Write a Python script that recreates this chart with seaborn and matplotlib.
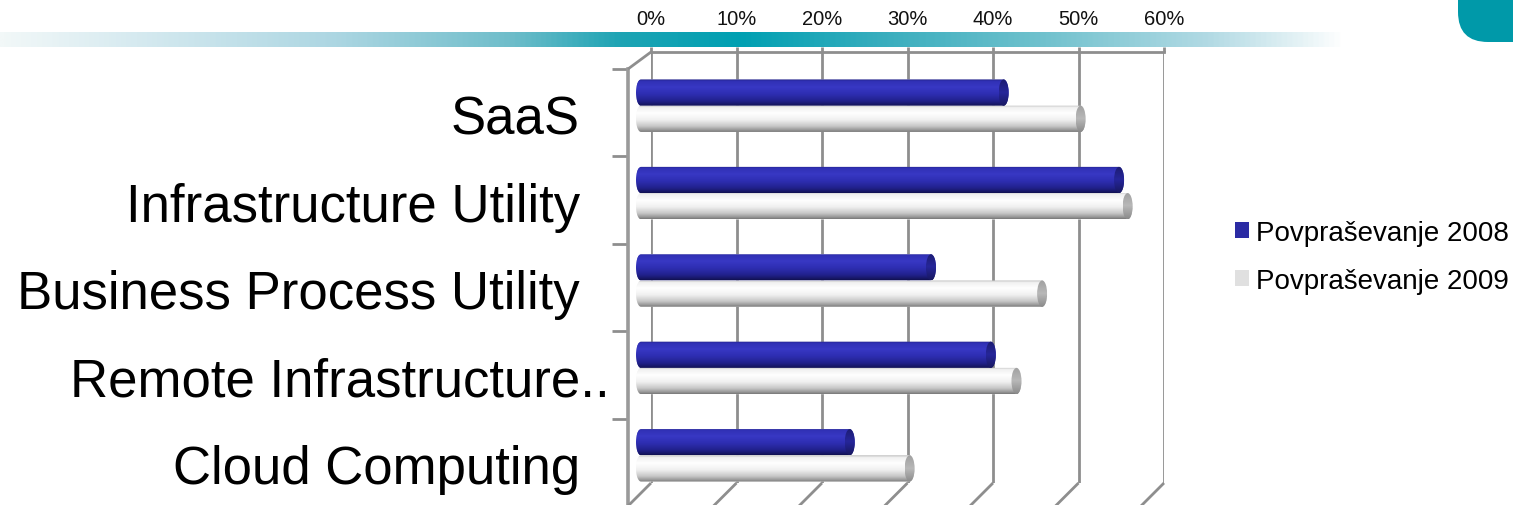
import numpy as np
import pandas as pd
import matplotlib
matplotlib.use("Agg")
import matplotlib.pyplot as plt
import seaborn as sns
from matplotlib.patches import PathPatch, Ellipse, FancyBboxPatch
from matplotlib.path import Path
from matplotlib.lines import Line2D
from matplotlib.colors import LinearSegmentedColormap
from matplotlib.transforms import ScaledTranslation

# ---------------- data ----------------
categories = ["SaaS", "Infrastructure Utility", "Business Process Utility",
              "Remote Infrastructure..", "Cloud Computing"]
series_names = ["Povpraševanje 2008", "Povpraševanje 2009"]
values_2008 = [43, 56.5, 34.5, 41.5, 25]
values_2009 = [52, 57.5, 47.5, 44.5, 32]
x_ticks = [0, 10, 20, 30, 40, 50, 60]
x_tick_labels = ["0%", "10%", "20%", "30%", "40%", "50%", "60%"]

# ---------------- style ----------------
W, H, DPI = 1513, 506, 100
sns.set_theme(style="white")
plt.rcParams['font.family'] = ['Liberation Sans', 'DejaVu Sans']

BLUE = "#2d2db2"
WHITE = "#f4f4f4"
LEGEND_COLORS = ["#2b2ba4", "#e0e0e0"]
GRID = "#8e8e8e"

fig = plt.figure(figsize=(W / DPI, H / DPI), dpi=DPI)
fig.patch.set_facecolor("white")


def px_axes(x0, y_top, x1, y_bottom, **kw):
    return fig.add_axes([x0 / W, 1 - y_bottom / H, (x1 - x0) / W, (y_bottom - y_top) / H], **kw)


# ---------------- decorative header band ----------------
ax_band = px_axes(0, 33, 1345, 48)
band_stops = [(0.00, "#f2f8f8"), (0.10, "#d6eaf0"), (0.25, "#acd6e2"),
              (0.38, "#6ebdca"), (0.46, "#1ea4b4"), (0.55, "#00a0b2"),
              (0.66, "#3aaebe"), (0.78, "#72c2ce"), (0.90, "#b2dae4"),
              (0.97, "#e6f3f6"), (1.00, "#ffffff")]
band_cmap = LinearSegmentedColormap.from_list("band", band_stops)
ax_band.imshow(np.linspace(0, 1, 512)[None, :], cmap=band_cmap, aspect="auto",
               extent=(0, 1, 0, 1))
ax_band.set_axis_off()

# teal rounded corner shape (top right)
ax_corner = px_axes(1440, 0, 1513, 45)
ax_corner.set_xlim(0, 73)
ax_corner.set_ylim(0, 45)
ax_corner.add_patch(FancyBboxPatch((18, 2), 120, 120,
                                   boxstyle="round,pad=0,rounding_size=30",
                                   facecolor="#0099a9", edgecolor="none"))
ax_corner.set_axis_off()

# ---------------- back plane: gridlines + top tick labels ----------------
ax_back = px_axes(651, 53, 1164, 484)
ax_back.set_xlim(0, 60)
ax_back.set_ylim(len(categories) - 0.5, -0.5)
ax_back.set_facecolor("none")
ax_back.set_xticks(x_ticks)
ax_back.set_xticklabels(x_tick_labels)
ax_back.set_yticks([])
ax_back.xaxis.tick_top()
ax_back.tick_params(axis="x", top=True, bottom=False, labeltop=True, labelbottom=False,
                    length=3.6, width=2.0, color=GRID, pad=13.5, labelsize=14.5,
                    labelcolor="#111111")
ax_back.grid(axis="x", color=GRID, linewidth=2.0)
for side, sp in ax_back.spines.items():
    if side == "top":
        sp.set_color(GRID)
        sp.set_linewidth(2.0)
    else:
        sp.set_visible(False)

# ---------------- bar plane (seaborn) ----------------
ax_bar = px_axes(636, 63, 1149, 500)
df = pd.DataFrame({
    "category": categories * 2,
    "value": values_2008 + values_2009,
    "series": [series_names[0]] * len(categories) + [series_names[1]] * len(categories),
})
sns.barplot(data=df, x="value", y="category", hue="series", orient="h",
            palette=[BLUE, WHITE], width=0.6, dodge=True, saturation=1,
            errorbar=None, ax=ax_bar)

handles, labels = ax_bar.get_legend_handles_labels()
ax_bar.get_legend().remove()

px_per_unit = (1149 - 636) / 60.0
rx = 5.0 / px_per_unit

blue_cmap = LinearSegmentedColormap.from_list("blue", [
    (0.00, "#1e1e7a"), (0.07, "#3030b4"), (0.30, "#3838c4"), (0.55, "#2e2eb2"),
    (0.80, "#22228e"), (0.93, "#18186a"), (1.00, "#101050")])
white_cmap = LinearSegmentedColormap.from_list("white", [
    (0.00, "#b4b4b4"), (0.08, "#f0f0f0"), (0.30, "#ffffff"), (0.55, "#f0f0f0"),
    (0.78, "#c8c8c8"), (0.92, "#9a9a9a"), (1.00, "#767676")])
blue_cap = LinearSegmentedColormap.from_list("bcap", ["#1c1c70", "#26269a", "#181860"])
white_cap = LinearSegmentedColormap.from_list("wcap", ["#a0a0a0", "#b8b8b8", "#8a8a8a"])

grad = np.linspace(0, 1, 256)[:, None]
bar_patches = list(ax_bar.patches)
n = len(categories)
for i, p in enumerate(bar_patches):
    x0, y0 = p.get_x(), p.get_y()
    w, h = p.get_width(), p.get_height()
    x1 = x0 + w
    yc = y0 + h / 2
    t_left = np.linspace(np.pi / 2, 3 * np.pi / 2, 40)
    t_right = np.linspace(-np.pi / 2, np.pi / 2, 40)
    left = np.column_stack([x0 + rx + rx * np.cos(t_left), yc - (h / 2) * np.sin(t_left)])
    right = np.column_stack([x1 + rx * np.cos(t_right), yc - (h / 2) * np.sin(t_right)])
    verts = np.vstack([left, right, left[:1]])
    clip = PathPatch(Path(verts), transform=ax_bar.transData, facecolor="none", edgecolor="none")
    is_2008 = i < n
    cmap = blue_cmap if is_2008 else white_cmap
    im = ax_bar.imshow(grad, cmap=cmap, aspect="auto", extent=(x0, x1 + rx, y0 + h, y0),
                       origin="upper", zorder=3, interpolation="bilinear")
    im.set_clip_path(clip)
    p.set_clip_path(clip)
    cap_clip = Ellipse((x1, yc), 2 * rx, h, transform=ax_bar.transData)
    cim = ax_bar.imshow(grad, cmap=blue_cap if is_2008 else white_cap, aspect="auto",
                        extent=(x1 - rx, x1 + rx, y0 + h, y0), origin="upper", zorder=4,
                        interpolation="bilinear")
    cim.set_clip_path(cap_clip)

ax_bar.set_xlim(0, 60)
ax_bar.set_ylim(len(categories) - 0.5, -0.5)
ax_bar.set_facecolor("none")
for sp in ax_bar.spines.values():
    sp.set_visible(False)
ax_bar.set_xticks([])
ax_bar.set_xlabel("")
ax_bar.set_ylabel("")
ax_bar.tick_params(axis="y", length=0, pad=56 * 72 / DPI, labelsize=38, labelcolor="black")
for lbl in ax_bar.get_yticklabels():
    dx = 30 if lbl.get_text().endswith("..") else 0
    lbl.set_transform(lbl.get_transform() + ScaledTranslation(dx / DPI, -8 / DPI, fig.dpi_scale_trans))

# ---------------- front plane: left axis + category ticks ----------------
ax_front = px_axes(628, 70, 1141, 507)
ax_front.set_xlim(0, 60)
ax_front.set_ylim(len(categories) - 0.5, -0.5)
ax_front.set_facecolor("none")
ax_front.set_xticks([])
ax_front.set_yticks(np.arange(len(categories) + 1) - 0.5)
ax_front.set_yticklabels([])
ax_front.tick_params(axis="y", left=True, length=11.5, width=2.0, color=GRID, direction="out")
for side, sp in ax_front.spines.items():
    if side == "left":
        sp.set_color("#9a9a9a")
        sp.set_linewidth(2.6)
    else:
        sp.set_visible(False)

# 3D connector segments between back and front planes
inv = fig.transFigure.inverted()
ybot = len(categories) - 0.5
ytop = -0.5
segments = [((0, ytop), (0, ytop))] + [((v, ybot), (v, ybot)) for v in x_ticks]
for (bpt, fpt) in segments:
    pb = inv.transform(ax_back.transData.transform(bpt))
    pf = inv.transform(ax_front.transData.transform(fpt))
    fig.add_artist(Line2D([pb[0], pf[0]], [pb[1], pf[1]], transform=fig.transFigure,
                          color=GRID, linewidth=2.0, solid_capstyle="butt"))

# ---------------- legend ----------------
for hd, c in zip(handles, LEGEND_COLORS):
    hd.set_facecolor(c)
    hd.set_edgecolor("none")
fig.legend(handles, labels, loc="center left", bbox_to_anchor=(1235 / W, 1 - 258 / H),
           frameon=False, fontsize=20, handlelength=0.5, handleheight=0.5,
           handletextpad=0.25, labelspacing=0.8, borderpad=0, borderaxespad=0,
           labelcolor="black")

fig.savefig("out.png", dpi=DPI, facecolor="white")
